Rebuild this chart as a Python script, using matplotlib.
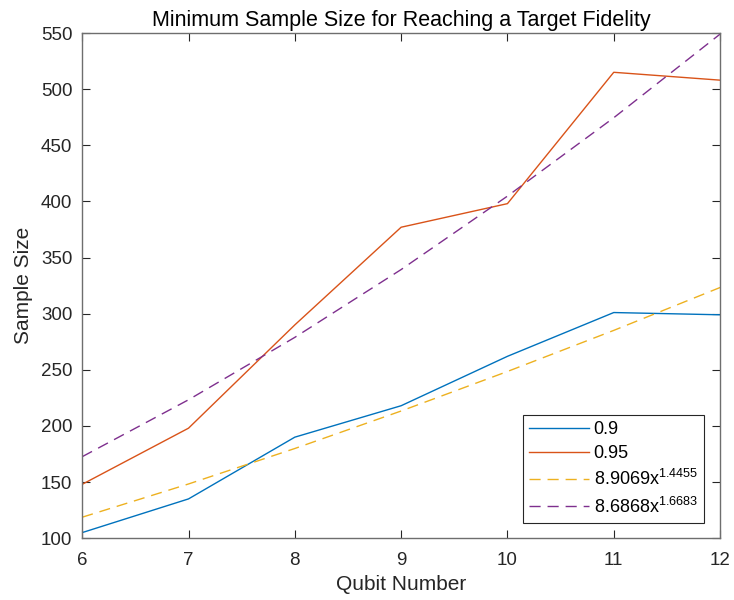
import matplotlib
matplotlib.use("Agg")
import matplotlib.pyplot as plt

# qubit numbers and measured minimum sample sizes
qubits = [6, 7, 8, 9, 10, 11, 12]
size_090 = [105, 135, 190, 218, 262, 301, 299]
size_095 = [148, 198, 290, 377, 398, 515, 508]

# power-law fit curves (values read at each qubit number)
fit_090 = [118.7, 148.3, 179.9, 213.3, 248.5, 285.1, 323.3]
fit_095 = [172.6, 223.3, 278.9, 339.3, 404.7, 474.5, 549.0]

labels = ["0.9", "0.95", r"8.9069x$^{1.4455}$", r"8.6868x$^{1.6683}$"]
yticks = list(range(100, 551, 50))

plt.rcParams["font.family"] = ["Liberation Sans", "DejaVu Sans"]
plt.rcParams["mathtext.fontset"] = "custom"
plt.rcParams["mathtext.rm"] = "Liberation Sans"

fig = plt.figure(figsize=(7.34, 6.0), dpi=100)
ax = fig.add_axes([0.112, 0.103, 0.869, 0.842])

ax.plot(qubits, size_090, color="#0072BD", lw=1.0, label=labels[0])
ax.plot(qubits, size_095, color="#D95319", lw=1.0, label=labels[1])
ax.plot(qubits, fit_090, color="#EDB120", lw=1.0, dashes=(8, 5), label=labels[2])
ax.plot(qubits, fit_095, color="#7E2F8E", lw=1.0, dashes=(8, 5), label=labels[3])

ax.set_xlim(6, 12)
ax.set_ylim(100, 550)
ax.set_yticks(yticks)
ax.set_xticks(qubits)

axcol = "#262626"
for sp in ax.spines.values():
    sp.set_color("#6e6e6e")
    sp.set_linewidth(1.0)
ax.tick_params(direction="in", top=True, right=True, length=6, width=0.8,
               color=axcol, labelcolor=axcol, labelsize=13.5)
ax.tick_params(axis="x", pad=10)
ax.tick_params(axis="y", pad=7)

ax.set_xlabel("Qubit Number", fontsize=15, color=axcol, labelpad=4)
ax.set_ylabel("Sample Size", fontsize=15, color=axcol, labelpad=6)
ax.set_title("Minimum Sample Size for Reaching a Target Fidelity",
             fontsize=15.5, color="black", pad=5)

leg = ax.legend(loc="lower right", bbox_to_anchor=(0.975, 0.03), fontsize=13,
                fancybox=False, framealpha=1, edgecolor=axcol,
                handlelength=3.3, borderaxespad=0.0, labelspacing=0.4,
                borderpad=0.35, handletextpad=0.25)
leg.get_frame().set_linewidth(0.8)

fig.savefig("out.png", dpi=100)
